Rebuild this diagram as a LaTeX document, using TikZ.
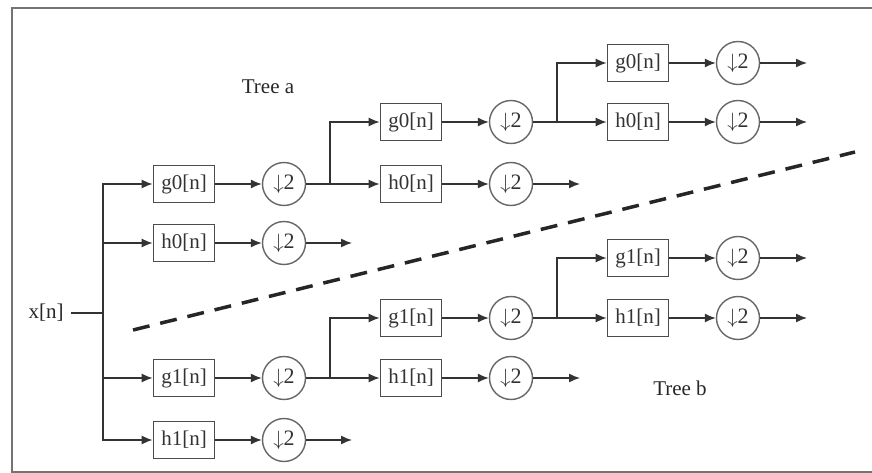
\documentclass[tikz,border=0pt]{standalone}
\usepackage{fontspec}
\setmainfont{Liberation Serif}
\usetikzlibrary{arrows.meta}
\begin{document}
\begin{tikzpicture}[x=1pt,y=-1pt,
 filt/.style={draw=black!70, line width=1.7pt, minimum width=61pt, minimum height=37pt, inner sep=0pt, font=\fontsize{21}{21}\selectfont, text=black!80},
 dec/.style={draw=black!60, circle, line width=1.4pt, minimum size=43pt, inner sep=0pt, font=\fontsize{22}{22}\selectfont, text=black!80},
 conn/.style={draw=black!80, line width=1.4pt},
 arr/.style={conn, -{Latex[length=11pt,width=9pt]}},
 lbl/.style={font=\fontsize{21}{21}\selectfont, text=black!85}]
\useasboundingbox (0,0) rectangle (872,473);
\draw[black!55, line width=2pt] (880,8) -- (12,8) -- (12,472) -- (880,472);
% labels
\node[lbl] (ta) at (268,87) {Tree a};
\node[lbl] (tb) at (680,388) {Tree b};
\node[lbl] (x) at (46,313) {x[n]};
\coordinate (s) at (103,313);
% tree a
\node[filt] (ag0) at (184,184) {g0[n]};
\node[dec] (ad1) at (284,184) {$\downarrow$2};
\node[filt] (ah0) at (184,243) {h0[n]};
\node[dec] (ad0) at (284,243) {$\downarrow$2};
\coordinate (ae0) at (352,243);
\coordinate (ab1) at (330,184);
\node[filt] (ag00) at (411,122) {g0[n]};
\node[filt] (ah01) at (411,184) {h0[n]};
\node[dec] (ad2) at (511,122) {$\downarrow$2};
\node[dec] (ad3) at (511,184) {$\downarrow$2};
\coordinate (ae3) at (580,184);
\coordinate (ab2) at (557,122);
\node[filt] (ag000) at (638,63) {g0[n]};
\node[filt] (ah001) at (638,122) {h0[n]};
\node[dec] (ad4) at (738,63) {$\downarrow$2};
\node[dec] (ad5) at (738,122) {$\downarrow$2};
\coordinate (ae4) at (807,63);
\coordinate (ae5) at (807,122);
% tree b
\node[filt] (bg1) at (184,378) {g1[n]};
\node[dec] (bd1) at (284,378) {$\downarrow$2};
\node[filt] (bh1) at (184,440) {h1[n]};
\node[dec] (bd0) at (284,440) {$\downarrow$2};
\coordinate (be0) at (352,440);
\coordinate (bb1) at (330,378);
\node[filt] (bg11) at (411,318) {g1[n]};
\node[filt] (bh11) at (411,378) {h1[n]};
\node[dec] (bd2) at (511,318) {$\downarrow$2};
\node[dec] (bd3) at (511,378) {$\downarrow$2};
\coordinate (be3) at (580,378);
\coordinate (bb2) at (557,318);
\node[filt] (bg111) at (638,258) {g1[n]};
\node[filt] (bh111) at (638,318) {h1[n]};
\node[dec] (bd4) at (738,258) {$\downarrow$2};
\node[dec] (bd5) at (738,318) {$\downarrow$2};
\coordinate (be4) at (807,258);
\coordinate (be5) at (807,318);
% connectors
\draw[conn] (x.east) ++(4,0) -- (s);
\draw[arr] (s) |- (ag0.west);
\draw[arr] (s) |- (ah0.west);
\draw[arr] (s) |- (bg1.west);
\draw[arr] (s) |- (bh1.west);
\foreach \a/\b in {ag0/ad1, ah0/ad0, ad1/ah01, ag00/ad2, ah01/ad3, ad2/ah001, ag000/ad4, ah001/ad5,
                   bg1/bd1, bh1/bd0, bd1/bh11, bg11/bd2, bh11/bd3, bd2/bh111, bg111/bd4, bh111/bd5}
  \draw[arr] (\a) -- (\b);
\foreach \a/\b in {ad0/ae0, ad3/ae3, ad4/ae4, ad5/ae5, bd0/be0, bd3/be3, bd4/be4, bd5/be5}
  \draw[arr] (\a) -- (\b);
\draw[arr] (ab1) |- (ag00.west);
\draw[arr] (ab2) |- (ag000.west);
\draw[arr] (bb1) |- (bg11.west);
\draw[arr] (bb2) |- (bg111.west);
% dashed separator
\coordinate (d1) at (133,330);
\coordinate (d2) at (855,152);
\draw[black!85, line width=3.5pt, dash pattern=on 17pt off 11pt] (d1) -- (d2);
\end{tikzpicture}
\end{document}
